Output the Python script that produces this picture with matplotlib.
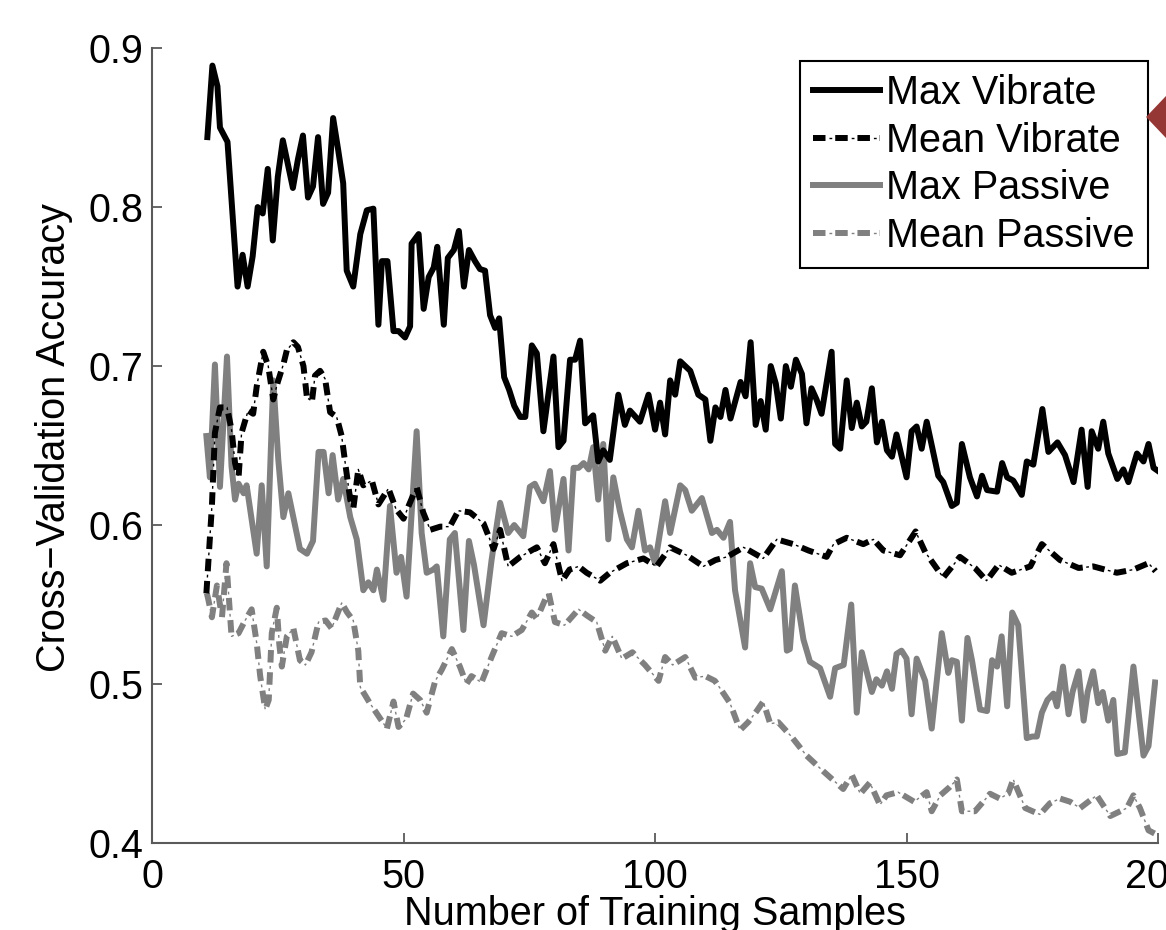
import numpy as np
import matplotlib
matplotlib.use("Agg")
import matplotlib.pyplot as plt
from matplotlib.patches import Polygon
from matplotlib.legend_handler import HandlerTuple

plt.rcParams['font.family'] = ['Liberation Sans', 'DejaVu Sans']
plt.rcParams['lines.scale_dashes'] = False

# values (x = number of training samples, y = accuracy)
max_vib_x = [11, 12, 13, 13.5, 15, 17, 18, 19, 20, 21, 22, 23, 24, 25, 26, 28, 29, 30, 31, 32,
             33, 34, 35, 36, 37, 38, 38.7, 40, 41.4, 42.7, 44, 45, 45.7, 46.8, 48, 49, 50.3, 51.3,
             51.6, 53, 54, 55, 56, 56.7, 58, 58.8, 60, 61, 62, 63, 64.2, 65.2, 66.2, 67.2, 68.2,
             69, 70, 71, 72, 73.2, 74.2, 75.5, 76.5, 77.8, 79.8, 80.8, 81.8, 83.1, 84.1, 85.1,
             86.1, 87.7, 88.7, 89.7, 91, 92.7, 94, 95, 97, 98.7, 100, 101, 102, 103, 104, 105,
             107, 108.6, 110, 111, 112, 113, 114, 115, 117, 118, 119, 120, 121, 122, 123, 124,
             125, 126, 127, 128, 129.2, 130.1, 131.1, 132.1, 133.1, 135.1, 135.8, 136.8, 138.1,
             139.1, 140.1, 141.1, 142, 143.1, 144.1, 145.1, 146.1, 147.1, 148, 150, 151, 152,
             153, 154, 156.3, 157.3, 159, 160, 161, 162.6, 164, 165, 166, 168, 169, 170, 171.2,
             172.9, 173.9, 175.2, 177, 178.2, 180, 181.5, 183.2, 184.8, 186, 186.8, 188.1,
             189.1, 190.1, 191.9, 193.1, 194.1, 195.8, 197.1, 198.1, 199.1, 200]
max_vib_y = [0.844, 0.889, 0.876, 0.850, 0.841, 0.750, 0.770, 0.750, 0.769, 0.800, 0.796, 0.824,
             0.779, 0.819, 0.842, 0.812, 0.830, 0.845, 0.806, 0.813, 0.844, 0.802, 0.809, 0.856,
             0.836, 0.815, 0.760, 0.750, 0.783, 0.798, 0.799, 0.726, 0.766, 0.766, 0.722, 0.722,
             0.718, 0.725, 0.777, 0.783, 0.736, 0.756, 0.762, 0.775, 0.726, 0.768, 0.773, 0.785,
             0.750, 0.773, 0.766, 0.761, 0.760, 0.732, 0.724, 0.730, 0.693, 0.685, 0.675, 0.668,
             0.668, 0.713, 0.708, 0.659, 0.706, 0.649, 0.653, 0.704, 0.704, 0.716, 0.664, 0.669,
             0.640, 0.647, 0.641, 0.682, 0.663, 0.672, 0.665, 0.682, 0.660, 0.677, 0.657, 0.691,
             0.682, 0.703, 0.697, 0.682, 0.679, 0.653, 0.674, 0.668, 0.685, 0.667, 0.690, 0.681,
             0.715, 0.663, 0.678, 0.660, 0.700, 0.689, 0.667, 0.700, 0.687, 0.704, 0.695, 0.664,
             0.686, 0.679, 0.670, 0.709, 0.651, 0.648, 0.691, 0.661, 0.677, 0.662, 0.665, 0.686,
             0.652, 0.665, 0.647, 0.643, 0.657, 0.630, 0.659, 0.662, 0.648, 0.665, 0.631, 0.627,
             0.612, 0.614, 0.651, 0.630, 0.618, 0.631, 0.622, 0.621, 0.639, 0.630, 0.628, 0.619,
             0.640, 0.638, 0.673, 0.646, 0.652, 0.644, 0.627, 0.660, 0.624, 0.659, 0.648, 0.665,
             0.645, 0.629, 0.635, 0.627, 0.645, 0.640, 0.651, 0.636, 0.634]

mean_vib_x = [10.8, 11.9, 12.5, 13.5, 14.9, 15.8, 16.5, 17.2, 17.8, 19.1, 20.1, 20.8, 22.1, 23.1,
              24.1, 25, 26.1, 26.8, 28.1, 29, 30.1, 30.8, 31.8, 32.4, 33.4, 34.4, 35.4, 36.7,
              37.7, 38.4, 39.4, 40, 41, 42, 43.7, 45, 47, 48.5, 50, 51, 52.6, 53.9, 55.3, 57.3,
              59.2, 60.9, 63.2, 65.9, 67.9, 69.2, 70.8, 73.2, 76.5, 78.1, 79.8, 81.5, 83, 84.8,
              86.4, 89.1, 91, 94.4, 97.7, 100.3, 103, 106.3, 109.6, 112, 114.3, 117.6, 121.5,
              124.2, 127.5, 130.5, 134.1, 135.5, 138.1, 141.4, 143.4, 145.4, 148.7, 151.8, 153.7,
              157.3, 160.6, 163.6, 165.9, 168.3, 170.9, 174.6, 176.9, 180.5, 184.2, 187.1, 191.8,
              195.1, 198.1, 199.5]
mean_vib_y = [0.557, 0.612, 0.658, 0.674, 0.674, 0.660, 0.639, 0.630, 0.658, 0.672, 0.670, 0.687,
              0.709, 0.700, 0.679, 0.690, 0.701, 0.710, 0.715, 0.712, 0.700, 0.680, 0.678, 0.694,
              0.697, 0.692, 0.671, 0.668, 0.656, 0.639, 0.616, 0.610, 0.635, 0.625, 0.628, 0.613,
              0.623, 0.610, 0.604, 0.612, 0.624, 0.608, 0.597, 0.599, 0.599, 0.609, 0.608, 0.601,
              0.585, 0.597, 0.574, 0.580, 0.586, 0.576, 0.588, 0.565, 0.572, 0.574, 0.570, 0.565,
              0.570, 0.576, 0.579, 0.574, 0.586, 0.581, 0.574, 0.578, 0.580, 0.586, 0.579, 0.591,
              0.588, 0.584, 0.580, 0.588, 0.592, 0.588, 0.591, 0.584, 0.581, 0.596, 0.583, 0.567,
              0.580, 0.573, 0.565, 0.575, 0.570, 0.574, 0.588, 0.578, 0.573, 0.574, 0.570, 0.572,
              0.576, 0.571]

max_pas_x = [10.8, 11.5, 12.5, 13.5, 14.9, 15.8, 16.5, 17.2, 18.2, 18.8, 20.8, 21.8, 22.8, 24.1,
             25.1, 26.1, 27.1, 29.4, 30.8, 32, 33.1, 34.1, 35.1, 35.9, 37, 38, 39.4, 40.7, 42,
             43, 44, 44.7, 46, 47.3, 48.6, 49.5, 50.6, 52.6, 53.6, 54.6, 55.9, 56.6, 57.9, 59.2,
             60.2, 61.9, 63, 64, 65.9, 67.5, 69.2, 70.8, 72, 73.8, 75.1, 76.1, 77.8, 79.1, 80.1,
             81.8, 82.8, 83.8, 84.8, 85.8, 86.8, 87.7, 88.7, 89.7, 90.7, 91.7, 93, 94.4, 95.4,
             96.7, 98, 99, 100, 102, 103, 105, 106, 107.3, 109.3, 111.3, 112.3, 113.6, 114.9,
             115.9, 117.9, 118.9, 119.9, 121.2, 122.9, 125.2, 126.2, 126.8, 127.8, 129.5, 130.8,
             132.8, 134.8, 135.8, 137.5, 139, 140.1, 141.1, 143.1, 144, 145.1, 146.1, 147.1, 148,
             149, 150, 151, 152, 153.7, 155, 157, 158.3, 159, 160, 161, 162.1, 163, 164.6, 166,
             167, 168, 168.9, 170, 171, 172.2, 173.9, 175, 175.9, 176.9, 178, 179.2, 179.9,
             181.1, 182.2, 183, 184.2, 185.2, 186, 187.1, 188.1, 189, 190.1, 191.1, 191.9,
             193.4, 195.1, 197.1, 198.1, 199.4]
max_pas_y = [0.656, 0.630, 0.701, 0.624, 0.706, 0.637, 0.616, 0.626, 0.620, 0.625, 0.582, 0.625,
             0.574, 0.691, 0.641, 0.605, 0.620, 0.585, 0.582, 0.590, 0.646, 0.646, 0.620, 0.644,
             0.616, 0.629, 0.605, 0.591, 0.559, 0.564, 0.559, 0.572, 0.553, 0.612, 0.570, 0.580,
             0.555, 0.659, 0.595, 0.570, 0.572, 0.574, 0.530, 0.591, 0.595, 0.534, 0.590, 0.575,
             0.537, 0.578, 0.614, 0.595, 0.600, 0.593, 0.624, 0.626, 0.615, 0.634, 0.597, 0.629,
             0.584, 0.636, 0.636, 0.639, 0.635, 0.649, 0.616, 0.651, 0.591, 0.630, 0.609, 0.591,
             0.586, 0.609, 0.584, 0.586, 0.576, 0.615, 0.595, 0.625, 0.622, 0.609, 0.617, 0.595,
             0.597, 0.592, 0.602, 0.559, 0.523, 0.576, 0.561, 0.560, 0.547, 0.571, 0.521, 0.522,
             0.562, 0.528, 0.514, 0.510, 0.492, 0.510, 0.512, 0.550, 0.482, 0.520, 0.495, 0.503,
             0.499, 0.508, 0.497, 0.519, 0.521, 0.516, 0.481, 0.516, 0.502, 0.472, 0.532, 0.507,
             0.515, 0.514, 0.477, 0.529, 0.515, 0.484, 0.483, 0.515, 0.511, 0.530, 0.486, 0.545,
             0.537, 0.466, 0.467, 0.467, 0.482, 0.490, 0.494, 0.486, 0.511, 0.481, 0.495, 0.508,
             0.477, 0.495, 0.508, 0.488, 0.495, 0.477, 0.490, 0.456, 0.457, 0.511, 0.455, 0.461,
             0.501]

mean_pas_x = [10.9, 11.2, 11.9, 12.9, 13.9, 14.8, 15.8, 17.2, 18.5, 19.8, 20.8, 21.5, 22.5, 23.2,
              23.8, 24.8, 25.3, 25.8, 26.8, 28.1, 29.4, 30.5, 31.7, 33.1, 34.5, 35.7, 37.7, 38.8,
              40, 41, 41.4, 43.3, 45, 46.7, 48, 49, 50.5, 51.9, 53.3, 54.6, 56.3, 57.6, 59.6,
              61.2, 62.5, 63.5, 65.5, 67.5, 69.5, 71.5, 73.5, 75.5, 76.5, 78.8, 80.1, 82, 84.8,
              86.5, 88.4, 90.1, 91.5, 93.4, 95.5, 98, 100.7, 102, 103.5, 106, 108, 110, 111.9,
              113, 114.9, 116.9, 118.5, 120.2, 121.5, 122.9, 124.5, 127.1, 130.1, 133.5, 137.4,
              139.1, 140.8, 142.7, 144.7, 146, 148.3, 151.5, 154, 155, 156.7, 158.5, 160, 161,
              163.6, 166.6, 168.5, 170.2, 171.2, 173.6, 176.5, 178.5, 180.5, 182.5, 184.5, 187.8,
              190.5, 193.8, 195.1, 196.4, 198.1, 199.3]
mean_pas_y = [0.557, 0.553, 0.542, 0.562, 0.542, 0.576, 0.530, 0.532, 0.540, 0.547, 0.526, 0.505,
              0.484, 0.490, 0.532, 0.548, 0.525, 0.511, 0.530, 0.535, 0.515, 0.512, 0.520, 0.539,
              0.540, 0.535, 0.551, 0.545, 0.540, 0.521, 0.498, 0.488, 0.480, 0.472, 0.489, 0.473,
              0.478, 0.494, 0.490, 0.482, 0.502, 0.509, 0.522, 0.511, 0.500, 0.505, 0.501, 0.517,
              0.532, 0.530, 0.534, 0.545, 0.541, 0.558, 0.539, 0.537, 0.547, 0.543, 0.539, 0.521,
              0.530, 0.516, 0.520, 0.512, 0.502, 0.517, 0.512, 0.517, 0.504, 0.505, 0.502, 0.497,
              0.488, 0.471, 0.476, 0.483, 0.489, 0.475, 0.476, 0.467, 0.455, 0.445, 0.434, 0.443,
              0.431, 0.438, 0.424, 0.430, 0.432, 0.426, 0.432, 0.420, 0.430, 0.435, 0.440, 0.420,
              0.420, 0.431, 0.428, 0.431, 0.440, 0.422, 0.418, 0.425, 0.428, 0.426, 0.422, 0.430,
              0.417, 0.422, 0.430, 0.422, 0.408, 0.406]

labels = ["Max Vibrate", "Mean Vibrate", "Max Passive", "Mean Passive"]
gray = "#808080"
fs = 28.5

fig = plt.figure(figsize=(11.66, 9.30), dpi=100)
ax = fig.add_axes([0.1304, 0.0935, 0.8628, 0.8548])

lw = 4.3
thick_dash = (0, (9, 7))
thin_dash = (4.5, (2, 14))


def dashdot(x, y, color):
    a, = ax.plot(x, y, color=color, lw=lw, linestyle=thick_dash, dash_capstyle='butt',
                 dash_joinstyle='round')
    b, = ax.plot(x, y, color=color, lw=1.0, linestyle=thin_dash, dash_capstyle='butt')
    return (a, b)


# passive drawn first so the vibrate curves sit on top
h_mp, = ax.plot(max_pas_x, max_pas_y, color=gray, lw=lw, solid_joinstyle='round')
h_mnp = dashdot(mean_pas_x, mean_pas_y, gray)
h_mv, = ax.plot(max_vib_x, max_vib_y, color='black', lw=lw, solid_joinstyle='round')
h_mnv = dashdot(mean_vib_x, mean_vib_y, 'black')

ax.set_xlim(0, 200)
ax.set_ylim(0.4, 0.9)
ax.set_xticks([0, 50, 100, 150, 200])
ax.set_yticks([0.4, 0.5, 0.6, 0.7, 0.8, 0.9])
ax.set_yticklabels(["0.4", "0.5", "0.6", "0.7", "0.8", "0.9"])

spine_col = "#5a5a5a"
for s in ['top', 'right']:
    ax.spines[s].set_visible(False)
for s in ['left', 'bottom']:
    ax.spines[s].set_color(spine_col)
    ax.spines[s].set_linewidth(1.5)
ax.tick_params(direction='in', length=7, width=1.3, color=spine_col, labelsize=fs)
ax.tick_params(axis='x', pad=11)
ax.tick_params(axis='y', pad=6)

ax.set_xlabel("Number of Training Samples", fontsize=fs)
ax.set_ylabel("Cross\u2212Validation Accuracy", fontsize=fs)
ax.xaxis.set_label_coords(0.5, -0.0655)
ax.yaxis.set_label_coords(-0.0785, 0.51)

leg = ax.legend([h_mv, h_mnv, h_mp, h_mnp], labels, loc='upper right',
                bbox_to_anchor=(0.990, 0.984), borderaxespad=0, fontsize=fs,
                fancybox=False, framealpha=1, edgecolor='black', handlelength=1.7,
                handletextpad=0.15, labelspacing=0.245, borderpad=0.33,
                handler_map={tuple: HandlerTuple(ndivide=1)})
leg.get_frame().set_linewidth(1.5)

# cropped red marker at the right edge
fig.patches.append(Polygon([[0.9829, 0.8742], [1.0, 0.8968], [1.01, 0.8968],
                            [1.01, 0.8516], [1.0, 0.8516]], closed=True,
                           transform=fig.transFigure, facecolor='#953735',
                           edgecolor='none', figure=fig))

fig.savefig("out.png", dpi=100)
